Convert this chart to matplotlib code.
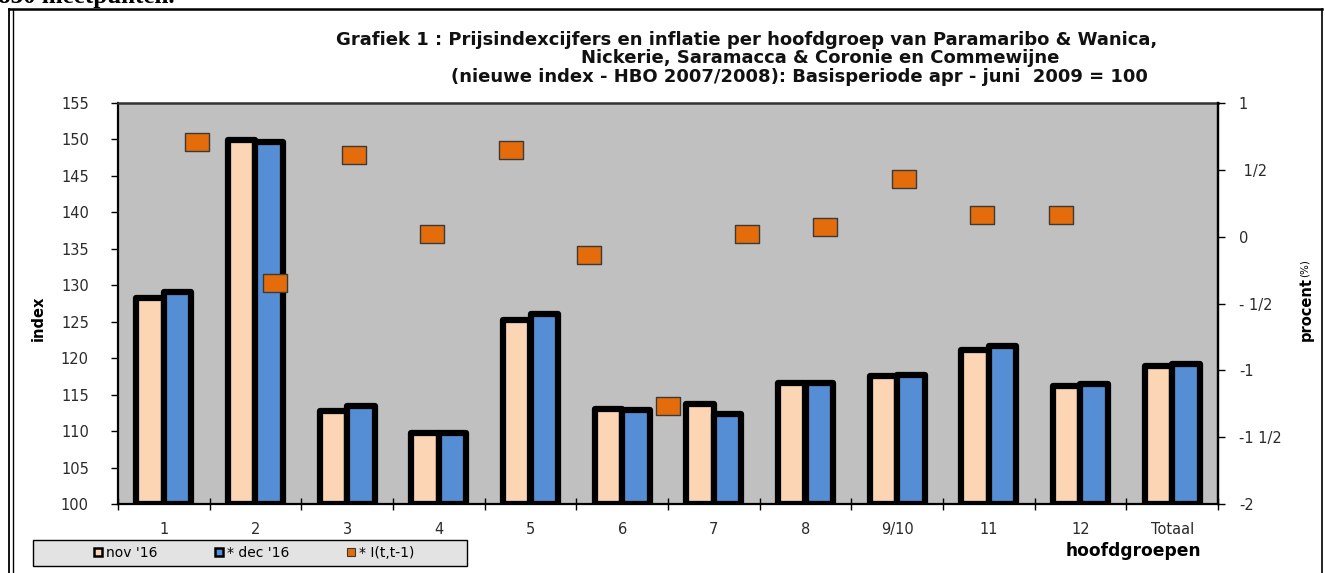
import matplotlib
matplotlib.use("Agg")
import matplotlib.pyplot as plt
import numpy as np
from matplotlib.lines import Line2D
from matplotlib.patches import Rectangle
from matplotlib.path import Path

plt.rcParams['font.family'] = ['DejaVu Sans']

categories = ["1", "2", "3", "4", "5", "6", "7", "8", "9/10", "11", "12", "Totaal"]
nov16 = [128.3, 149.9, 112.8, 109.7, 125.2, 113.0, 113.7, 116.6, 117.6, 121.1, 116.2, 118.9]
dec16 = [129.1, 149.6, 113.4, 109.8, 126.1, 112.9, 112.3, 116.6, 117.7, 121.7, 116.5, 119.2]
inflatie = [0.71, -0.35, 0.61, 0.02, 0.65, -0.14, -1.27, 0.02, 0.07, 0.43, 0.16, 0.16]
left_ticks = [100, 105, 110, 115, 120, 125, 130, 135, 140, 145, 150, 155]
right_ticks = [-2, -1.5, -1, -0.5, 0, 0.5, 1]
right_labels = ["-2", "-1 1/2", "-1", "- 1/2", "0", " 1/2", "1"]
legend_labels = ["nov '16", "* dec '16", "* I(t,t-1)"]

W, H = 1325, 573
fig = plt.figure(figsize=(W / 100, H / 100), dpi=100)

def fx(px):
    return px / W

def fy(py):
    return 1 - py / H

# outer frame
fig.add_artist(Line2D([fx(9), fx(1322)], [fy(9), fy(9)], color='black', lw=1.8))
fig.add_artist(Line2D([fx(9), fx(9)], [fy(9), 0], color='black', lw=1.3))
fig.add_artist(Line2D([fx(13), fx(13)], [fy(9), 0], color='black', lw=1.0))
fig.add_artist(Line2D([fx(1322), fx(1322)], [fy(9), 0], color='black', lw=1.2))

# cut-off document text at top
fig.text(fx(-2), fy(3), "830 meetpunten.", family='Liberation Serif', weight='bold',
         fontsize=18, va='baseline', ha='left')

L, R, T, B = 118, 1218, 103, 504
ax = fig.add_axes([fx(L), fy(B), fx(R - L), (B - T) / H])
ax.set_facecolor('#C0C0C0')

x = np.arange(len(categories))
bw = 0.3
ax.bar(x - bw / 2, [v - 100 for v in nov16], bw, bottom=100, color='#FCD5B5',
       edgecolor='black', linewidth=4.5, joinstyle='round', zorder=2)
ax.bar(x + bw / 2, [v - 100 for v in dec16], bw, bottom=100, color='#558ED5',
       edgecolor='black', linewidth=4.5, joinstyle='round', zorder=3)

tick_color = '#2a2a2a'
ax.set_xlim(-0.5, len(categories) - 0.5)
ax.set_ylim(100, 155)
ax.set_yticks(left_ticks)
ax.set_yticklabels([str(t) for t in left_ticks], fontsize=10.5, color=tick_color)
ax.tick_params(axis='y', direction='out', length=5, width=1, pad=16)
ax.set_xticks(np.arange(len(categories) + 1) - 0.5)
ax.set_xticklabels([])
ax.set_xticks(x, minor=True)
ax.set_xticklabels(categories, minor=True, fontsize=10.5, color=tick_color)
ax.tick_params(axis='x', which='major', direction='inout', length=9, width=1)
ax.tick_params(axis='x', which='minor', length=0, pad=13)
for s in ['left', 'right', 'bottom']:
    ax.spines[s].set_linewidth(1.6)
    ax.spines[s].set_color('black')
ax.spines['top'].set_linewidth(1.8)
ax.spines['top'].set_color('#333333')

ax2 = ax.twinx()
ax2.set_ylim(-2, 1)
ax2.set_yticks(right_ticks)
ax2.set_yticklabels(right_labels, fontsize=10.5, color=tick_color, ha='left')
ax2.tick_params(axis='y', direction='out', length=5, width=1, pad=10)
ax2.spines['right'].set_linewidth(1.6)
for s in ['top', 'left', 'bottom']:
    ax2.spines[s].set_visible(False)

ax3 = ax2.twiny()
ax3.set_xlim(0, 14)
ax3.set_xticks([])
for s in ax3.spines.values():
    s.set_visible(False)
rect_marker = Path([(-1, -0.75), (1, -0.75), (1, 0.75), (-1, 0.75), (-1, -0.75)],
                   [Path.MOVETO, Path.LINETO, Path.LINETO, Path.LINETO, Path.CLOSEPOLY])
ax3.plot(np.arange(1, len(inflatie) + 1), inflatie, linestyle='none', marker=rect_marker,
         markersize=17, markerfacecolor='#E46C0A', markeredgecolor='#3a3a3a',
         markeredgewidth=1.0, zorder=5)

# titles
title_kw = dict(ha='center', va='center', fontsize=13, weight='bold', color='#111111')
fig.text(fx(747), fy(40), "Grafiek 1 : Prijsindexcijfers en inflatie per hoofdgroep van Paramaribo & Wanica,", **title_kw)
fig.text(fx(820), fy(58), "Nickerie, Saramacca & Coronie en Commewijne", **title_kw)
fig.text(fx(799), fy(77), "(nieuwe index - HBO 2007/2008): Basisperiode apr - juni  2009 = 100", **title_kw)

fig.text(fx(38), fy(318), "index", rotation=90, ha='center', va='center',
         fontsize=10.5, weight='bold')
fig.text(fx(1306), fy(309), "procent", rotation=90, ha='center', va='center',
         fontsize=10.5, weight='bold')
fig.text(fx(1305), fy(268), "(%)", rotation=90, ha='center', va='center',
         fontsize=7.5, weight='normal')
fig.text(fx(1133), fy(551), "hoofdgroepen", ha='center', va='center',
         fontsize=12.3, weight='bold')

# legend box and legend
fig.add_artist(Rectangle((fx(33), fy(566)), fx(434), (566 - 540) / H,
                         transform=fig.transFigure, facecolor='#E3E3E3',
                         edgecolor='black', linewidth=1.0))
handles = [
    Line2D([], [], linestyle='none', marker='s', markersize=6, markerfacecolor='#FCD5B5',
           markeredgecolor='black', markeredgewidth=1.8),
    Line2D([], [], linestyle='none', marker='s', markersize=6, markerfacecolor='#558ED5',
           markeredgecolor='black', markeredgewidth=1.8),
    Line2D([], [], linestyle='none', marker='s', markersize=6, markerfacecolor='#E46C0A',
           markeredgecolor='#3a3a3a', markeredgewidth=0.8),
]
leg = fig.legend(handles, legend_labels, loc='center',
                 bbox_to_anchor=(fx(254), fy(553)),
                 ncol=3, fontsize=10, frameon=False,
                 handlelength=0.6, handletextpad=0.3, borderpad=0.0,
                 columnspacing=4.1, borderaxespad=0)

fig.savefig("out.png", dpi=100)
